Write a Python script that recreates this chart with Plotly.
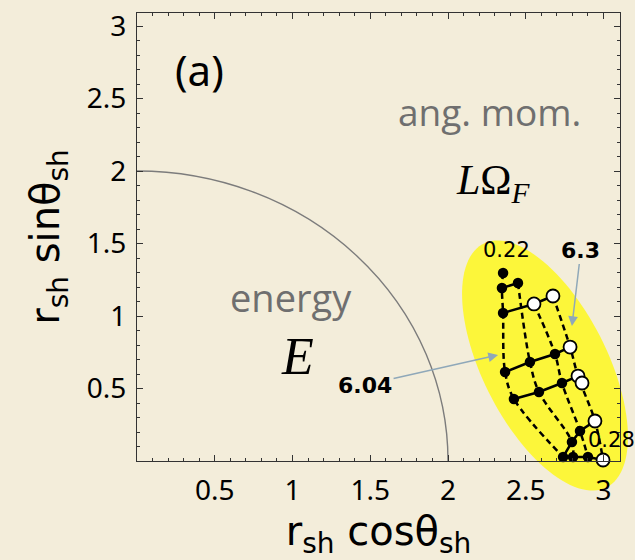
import numpy as np
import plotly.graph_objects as go

# ---------------- data ----------------
# dashed curves (constant second parameter, 6.04 ... 6.3)
d1_x = [2.354, 2.347, 2.354, 2.367, 2.424, 2.740]
d1_y = [1.297, 1.193, 1.021, 0.614, 0.428, 0.028]
d2_x = [2.450, 2.527, 2.585, 2.797, 2.804]
d2_y = [1.228, 0.683, 0.476, 0.131, 0.028]
d3_x = [2.553, 2.688, 2.733, 2.849, 2.900]
d3_y = [1.083, 0.738, 0.538, 0.207, 0.028]
d4_x = [2.675, 2.785, 2.836, 2.945, 2.997]
d4_y = [1.138, 0.786, 0.586, 0.276, 0.007]
dashed_curves = [(d1_x, d1_y), (d2_x, d2_y), (d3_x, d3_y), (d4_x, d4_y)]

# solid rows (constant first parameter, 0.22 ... 0.28)
r1_x = [2.347, 2.450]
r1_y = [1.193, 1.228]
r2_x = [2.354, 2.553, 2.675]
r2_y = [1.021, 1.083, 1.138]
r3_x = [2.367, 2.527, 2.688, 2.785]
r3_y = [0.614, 0.683, 0.738, 0.786]
r4_x = [2.424, 2.585, 2.733, 2.836]
r4_y = [0.428, 0.476, 0.538, 0.586]
r5_x = [2.740, 2.797, 2.849, 2.945]
r5_y = [0.028, 0.131, 0.207, 0.276]
r6_x = [2.740, 2.804, 2.900, 2.997]
r6_y = [0.028, 0.028, 0.028, 0.007]
solid_rows = [(r1_x, r1_y), (r2_x, r2_y), (r3_x, r3_y), (r4_x, r4_y), (r5_x, r5_y), (r6_x, r6_y)]

# filled and open points
filled_x = [2.354, 2.347, 2.354, 2.367, 2.424, 2.740,
            2.450, 2.527, 2.585, 2.797, 2.804,
            2.688, 2.733, 2.849, 2.900]
filled_y = [1.297, 1.193, 1.021, 0.614, 0.428, 0.028,
            1.228, 0.683, 0.476, 0.131, 0.028,
            0.738, 0.538, 0.207, 0.028]
open_x = [2.553, 2.675, 2.785, 2.836, 2.862, 2.945, 2.997]
open_y = [1.083, 1.138, 0.786, 0.586, 0.538, 0.276, 0.007]

x_ticks = [0.5, 1, 1.5, 2, 2.5, 3]
x_ticktext = ["0.5", "1", "1.5", "2", "2.5", "3"]
y_ticks = [0.5, 1, 1.5, 2, 2.5, 3]
y_ticktext = ["0.5", "1", "1.5", "2", "2.5", "3"]

# ---------------- figure ----------------
W, H = 635, 560
ML, MR, MT, MB = 137, 15, 13, 99
PW, PH = W - ML - MR, H - MT - MB
XMAX = PW / 155.5
YMAX = PH / 145.0

BG = "#f3edda"
fig = go.Figure()

for cx, cy in dashed_curves:
    fig.add_trace(go.Scatter(x=cx, y=cy, mode="lines", line_shape="spline",
                             line=dict(color="black", width=2.5, dash="6px,4px"),
                             hoverinfo="skip", showlegend=False))
for rx, ry in solid_rows:
    fig.add_trace(go.Scatter(x=rx, y=ry, mode="lines",
                             line=dict(color="black", width=2.5),
                             hoverinfo="skip", showlegend=False))
fig.add_trace(go.Scatter(x=filled_x, y=filled_y, mode="markers", cliponaxis=False,
                         marker=dict(color="black", size=10.5, line=dict(width=0)),
                         showlegend=False))
fig.add_trace(go.Scatter(x=open_x, y=open_y, mode="markers", cliponaxis=False,
                         marker=dict(color="white", size=13, line=dict(color="black", width=1.8)),
                         showlegend=False))

# yellow highlight ellipse (drawn in paper space so it may overflow the frame)
ecx, ecy, ea, eb, ephi = 545.0, 365.5, 136.5, 62.3, np.deg2rad(63.2)
t = np.linspace(0, 2 * np.pi, 120)
ex = ecx + ea * np.cos(t) * np.cos(ephi) - eb * np.sin(t) * np.sin(ephi)
ey = ecy + ea * np.cos(t) * np.sin(ephi) + eb * np.sin(t) * np.cos(ephi)
px = (ex - ML) / PW
py = (H - MB - ey) / PH
path = "M " + " L ".join(f"{a:.4f},{b:.4f}" for a, b in zip(px, py)) + " Z"
fig.add_shape(type="path", path=path, xref="paper", yref="paper",
              fillcolor="#fcf63a", line=dict(width=0), layer="below")

# energy boundary (circle of radius 2)
fig.add_shape(type="circle", xref="x", yref="y", x0=-2, y0=-2, x1=2, y1=2,
              line=dict(color="#7c7c7c", width=1.4), layer="below")

sans = "Noto Sans"
wide = "DejaVu Sans"
gill = "Open Sans"
serif = "Liberation Serif"
anns = [
    dict(x=0.405, y=2.70, text="(a)", font=dict(family=sans, size=42, color="black")),
    dict(x=2.27, y=2.41, text="ang. mom.", font=dict(family=gill, size=37, color="#6f6f6f")),
    dict(x=2.29, y=1.92, text="<i>L</i>Ω<sub><i>F</i></sub>", font=dict(family=serif, size=42, color="black")),
    dict(x=0.99, y=1.13, text="energy", font=dict(family=gill, size=38, color="#6f6f6f")),
    dict(x=1.03, y=0.72, text="<i>E</i>", font=dict(family=serif, size=52, color="black")),
    dict(x=2.373, y=1.455, text="0.22", font=dict(family=wide, size=21, color="black")),
    dict(x=2.89, y=0.145, text="0.28", font=dict(family=wide, size=21, color="black"),
         xanchor="left"),
]
for a in anns:
    fig.add_annotation(xref="x", yref="y", showarrow=False, **a)

arrow_col = "#8fa8b9"
fig.add_annotation(x=2.322, y=0.731, xref="x", yref="y", ax=-133, ay=30,
                   text="<b>6.04</b>", font=dict(family=wide, size=22, color="black"),
                   showarrow=True, arrowhead=2, arrowsize=1.3, arrowwidth=1.5,
                   arrowcolor=arrow_col, standoff=0)
fig.add_annotation(x=2.797, y=0.931, xref="x", yref="y", ax=9, ay=-76,
                   text="<b>6.3</b>", font=dict(family=wide, size=22, color="black"),
                   showarrow=True, arrowhead=2, arrowsize=1.3, arrowwidth=1.5,
                   arrowcolor=arrow_col, standoff=0)

axis_common = dict(showline=True, linecolor="#333333", linewidth=1, mirror="allticks",
                   ticks="inside", ticklen=6, tickwidth=1, tickcolor="#333333",
                   showgrid=False, zeroline=False, automargin=False,
                   tickfont=dict(family=sans, size=28, color="black"),
                   minor=dict(ticks="inside", ticklen=3, tickwidth=1, tickcolor="#333333",
                              dtick=0.1, tick0=0, showgrid=False))

fig.update_xaxes(range=[0, XMAX], tickvals=x_ticks, ticktext=x_ticktext,
                 ticklabelstandoff=4,
                 title=dict(text="r<sub>sh</sub>\u00a0cosθ<sub>sh</sub>",
                            font=dict(family=wide, size=40, color="black"), standoff=0),
                 **axis_common)
fig.update_yaxes(range=[0, YMAX], tickvals=y_ticks, ticktext=y_ticktext,
                 ticklabelstandoff=4,
                 title=dict(text="r<sub>sh</sub>\u00a0sinθ<sub>sh</sub>",
                            font=dict(family=wide, size=40, color="black"), standoff=14),
                 **axis_common)

fig.update_layout(width=W, height=H, margin=dict(l=ML, r=MR, t=MT, b=MB),
                  paper_bgcolor=BG, plot_bgcolor=BG, showlegend=False)

fig.write_html("out.html", config={"displayModeBar": False},
               post_script="document.body.style.margin='0';"
                           "document.body.style.background='" + BG + "';")
